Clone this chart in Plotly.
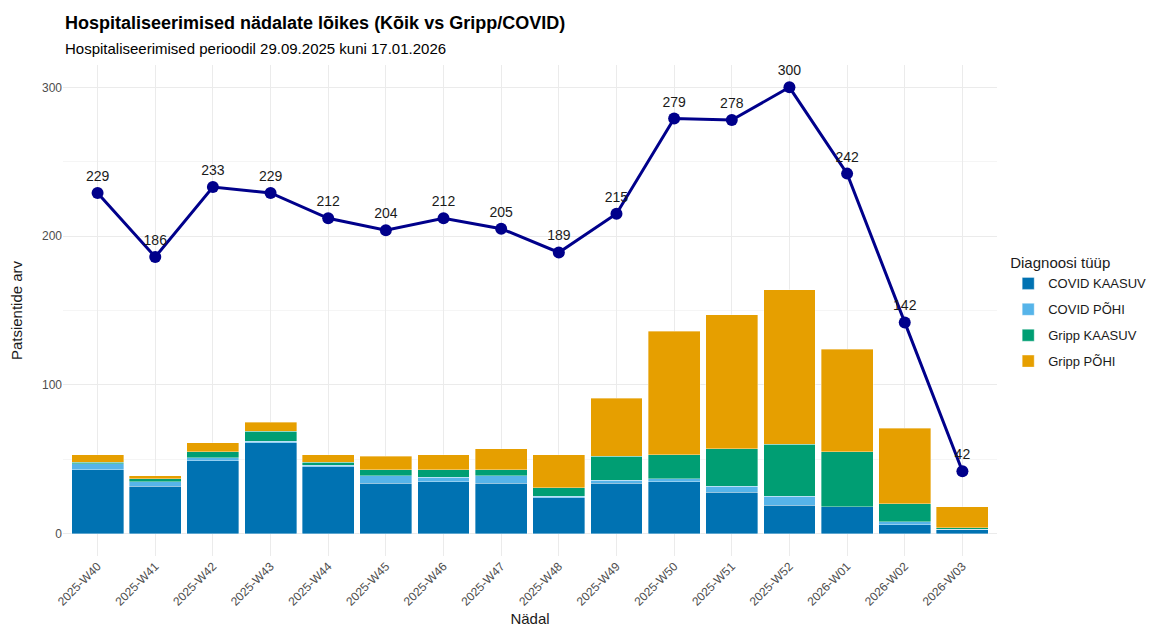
import plotly.graph_objects as go

weeks = ["2025-W40", "2025-W41", "2025-W42", "2025-W43", "2025-W44", "2025-W45",
         "2025-W46", "2025-W47", "2025-W48", "2025-W49", "2025-W50", "2025-W51",
         "2025-W52", "2026-W01", "2026-W02", "2026-W03"]
total = [229, 186, 233, 229, 212, 204, 212, 205, 189, 215, 279, 278, 300, 242, 142, 42]
covid_kaasuv = [43, 32, 49, 61, 45, 34, 35, 34, 24, 34, 35, 28, 19, 18, 6, 3]
covid_pohi = [4, 3, 2, 1, 1, 5, 3, 5, 1, 2, 2, 4, 6, 0, 2, 0]
gripp_kaasuv = [1, 2, 4, 7, 2, 4, 5, 4, 6, 16, 16, 25, 35, 37, 12, 1]
gripp_pohi = [5, 2, 6, 6, 5, 9, 10, 14, 22, 39, 83, 90, 104, 69, 51, 14]

series = [
    ("COVID KAASUV", covid_kaasuv, "#0072B2"),
    ("COVID PÕHI", covid_pohi, "#56B4E9"),
    ("Gripp KAASUV", gripp_kaasuv, "#009E73"),
    ("Gripp PÕHI", gripp_pohi, "#E69F00"),
]

FONT = "Liberation Sans, Arial, sans-serif"
fig = go.Figure()
for name, vals, col in series:
    fig.add_trace(go.Bar(
        x=weeks, y=vals, name=name, legendgroup=name,
        marker=dict(color=col, line=dict(color="rgba(255,255,255,0.6)", width=0.6)),
    ))

fig.add_trace(go.Scatter(
    x=weeks, y=total, mode="lines+markers+text", showlegend=False,
    line=dict(color="#00008B", width=3),
    marker=dict(color="#00008B", size=12),
    text=[str(v) for v in total], textposition="top center",
    textfont=dict(size=14, color="#1a1a1a", family=FONT),
    cliponaxis=False,
))

fig.add_annotation(
    text="<b>Hospitaliseerimised nädalate lõikes (Kõik vs Gripp/COVID)</b>",
    xref="paper", yref="paper", x=0, y=1, yshift=42,
    xanchor="left", yanchor="middle", showarrow=False,
    font=dict(size=18, color="black", family=FONT),
)
fig.add_annotation(
    text="Hospitaliseerimised perioodil 29.09.2025 kuni 17.01.2026",
    xref="paper", yref="paper", x=0, y=1, yshift=17,
    xanchor="left", yanchor="middle", showarrow=False,
    font=dict(size=15, color="black", family=FONT),
)

fig.update_layout(
    width=1161, height=623,
    barmode="stack", bargap=0.1,
    plot_bgcolor="white", paper_bgcolor="white",
    font=dict(family=FONT, color="#1a1a1a"),
    margin=dict(l=55, r=172, t=57, b=75, autoexpand=False),
    legend=dict(
        title=dict(text="Diagnoosi tüüp", font=dict(size=15, color="#1a1a1a")),
        x=1.012, xanchor="left", y=0.495, yanchor="middle",
        font=dict(size=13, color="#1a1a1a"),
        traceorder="grouped", tracegroupgap=6,
    ),
    xaxis=dict(
        title=dict(text="Nädal", font=dict(size=15, color="#1a1a1a"), standoff=5),
        range=[-0.6, 15.6],
        tickangle=-45, tickfont=dict(size=12, color="#4d4d4d"),
        showgrid=True, gridcolor="#ebebeb", gridwidth=1,
        ticks="", showline=False, zeroline=False, automargin=False,
    ),
    yaxis=dict(
        title=dict(text="Patsientide arv", font=dict(size=15, color="#1a1a1a"), standoff=15),
        range=[-15, 315], tickvals=[0, 100, 200, 300],
        tickfont=dict(size=12, color="#4d4d4d"),
        showgrid=True, gridcolor="#ebebeb", gridwidth=1.2, zeroline=False, automargin=False,
        minor=dict(tickvals=[50, 150, 250], showgrid=True, gridcolor="#f5f5f5", gridwidth=0.8),
    ),
)

fig.write_html("out.html")
